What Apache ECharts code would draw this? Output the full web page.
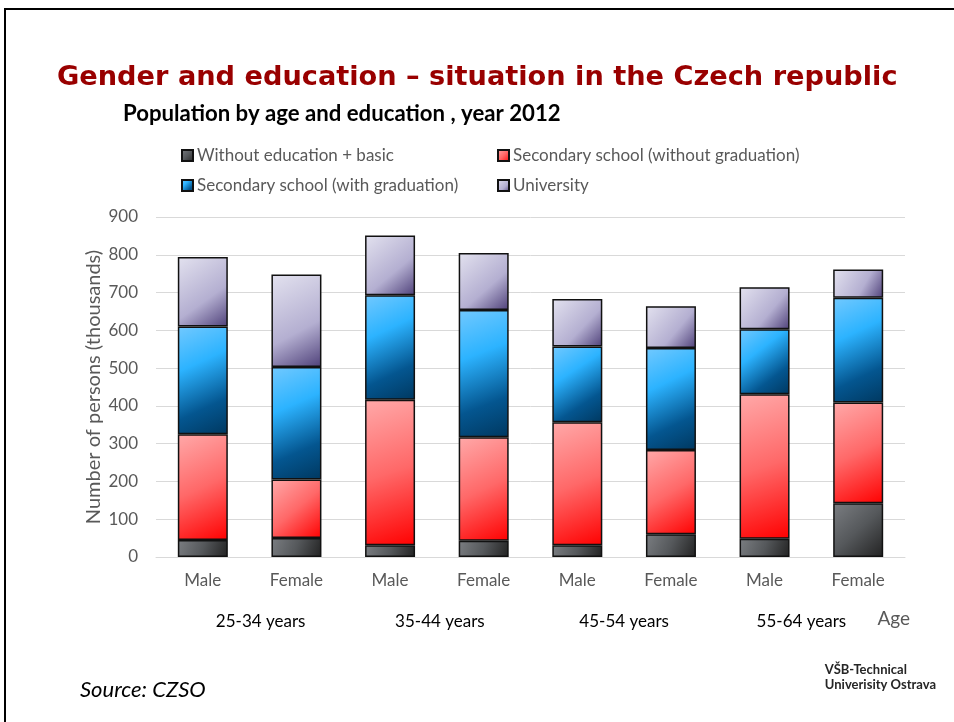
<!DOCTYPE html>
<html>
<head>
<meta charset="utf-8">
<title>Gender and education – Czech republic</title>
<script src="https://cdn.jsdelivr.net/npm/echarts@6/dist/echarts.min.js"></script>
<style>
  html, body { margin: 0; padding: 0; background: #ffffff; }
  #chart { width: 954px; height: 722px; }
</style>
</head>
<body>
<div id="chart"></div>
<script>
// Population by age group, gender and highest education, 2012 (thousands)
const genders = ['Male', 'Female', 'Male', 'Female', 'Male', 'Female', 'Male', 'Female'];
const ageGroups = ['25-34 years', '35-44 years', '45-54 years', '55-64 years'];
const seriesNames = [
  'Without education + basic',
  'Secondary school (without graduation)',
  'Secondary school (with graduation)',
  'University'
];
const basicEdu      = [45, 50, 31, 43, 31, 60, 48, 142];
const secondaryNoGr = [280, 155, 385, 274, 326, 223, 383, 267];
const secondaryGr   = [285, 298, 277, 337, 200, 270, 172, 277];
const university    = [184, 245, 158, 151, 126, 111, 111, 75];
const yTicks = { min: 0, max: 900, step: 100 };

const FONT = 'Lato, "Open Sans", sans-serif';
const GREY = '#595959';

function diag(stops) {
  return {
    type: 'linear', x: 0, y: 0, x2: 1, y2: 1,
    colorStops: stops.map(s => ({ offset: s[0], color: s[1] }))
  };
}

const fills = [
  diag([[0, '#7b7e82'], [0.5, '#55585b'], [1, '#222222']]),
  diag([[0, '#ffa9a9'], [0.5, '#ff6868'], [1, '#ff0000']]),
  diag([[0, '#72c9ff'], [0.35, '#2cb3ff'], [0.72, '#045690'], [1, '#003860']]),
  diag([[0, '#e3e2ef'], [0.6, '#b4afd1'], [1, '#4e4079']])
];

const values = [basicEdu, secondaryNoGr, secondaryGr, university];

const series = values.map((arr, i) => ({
  name: seriesNames[i],
  type: 'bar',
  stack: 'total',
  barWidth: 50,
  data: arr,
  itemStyle: {
    color: fills[i],
    borderColor: '#111111',
    borderWidth: 1.5
  },
  emphasis: { disabled: true }
}));

const legendPos = [
  { left: 181, top: 147 },
  { left: 497, top: 147 },
  { left: 181, top: 177 },
  { left: 497, top: 177 }
];
const legends = seriesNames.map((n, i) => ({
  data: [n],
  left: legendPos[i].left,
  top: legendPos[i].top,
  icon: 'rect',
  itemWidth: 11,
  itemHeight: 11,
  itemGap: 0,
  padding: 0,
  selectedMode: false,
  textStyle: { fontFamily: FONT, fontSize: 17, color: GREY, padding: [0, 0, 0, -1] }
}));

// small per-group nudges so the age-group labels sit where the slide places them
const groupShift = ['{a|', '{b|', '{c|', '{d|'];

const chart = echarts.init(document.getElementById('chart'), null, { renderer: 'canvas' });
chart.setOption({
  backgroundColor: '#ffffff',
  animation: false,
  title: [
    {
      text: 'Gender and education – situation in the Czech republic',
      left: 57, top: 64, padding: 0,
      textStyle: { fontFamily: '"DejaVu Sans", Verdana, sans-serif', fontWeight: 'bold', fontSize: 27.2, color: '#990000' }
    },
    {
      text: 'Population by age and education , year 2012',
      left: 123, top: 103, padding: 0,
      textStyle: { fontFamily: FONT, fontWeight: 'bold', fontSize: 22.2, color: '#000000' }
    },
    {
      text: 'Source: CZSO',
      left: 80, top: 679, padding: 0,
      textStyle: { fontFamily: FONT, fontStyle: 'italic', fontWeight: 'normal', fontSize: 22, color: '#000000' }
    },
    {
      text: 'VŠB-Technical\nUniverisity Ostrava',
      right: 18, top: 662, padding: 0,
      textStyle: { fontFamily: FONT, fontWeight: 'bold', fontSize: 13, lineHeight: 15, color: '#262626', align: 'right' }
    }
  ],
  legend: legends,
  grid: { left: 156, right: 49, top: 217, bottom: 165, containLabel: false },
  xAxis: [
    {
      type: 'category',
      data: genders,
      axisLine: { lineStyle: { color: '#d9d9d9', width: 1 } },
      axisTick: { show: false },
      axisLabel: { fontFamily: FONT, fontSize: 17, color: GREY, margin: 15 }
    },
    {
      type: 'category',
      data: ageGroups,
      position: 'bottom',
      offset: 52,
      axisLine: { show: false },
      axisTick: { show: false },
      axisLabel: {
        margin: 4,
        formatter: (v, i) => groupShift[i] + v + '}',
        rich: {
          a: { fontFamily: FONT, fontSize: 17, color: '#000', padding: [0, 0, 0, 22] },
          b: { fontFamily: FONT, fontSize: 17, color: '#000', padding: [0, 0, 0, 6] },
          c: { fontFamily: FONT, fontSize: 17, color: '#000' },
          d: { fontFamily: FONT, fontSize: 17, color: '#000', padding: [0, 20, 0, 0] }
        }
      },
      name: 'Age',
      nameLocation: 'end',
      nameGap: 5,
      nameMoveOverlap: false,
      nameTextStyle: { fontFamily: FONT, fontSize: 19, color: GREY, align: 'right', verticalAlign: 'top' }
    }
  ],
  yAxis: {
    type: 'value',
    min: yTicks.min,
    max: yTicks.max,
    interval: yTicks.step,
    axisLine: { show: false },
    axisTick: { show: false },
    splitLine: { lineStyle: { color: '#d9d9d9', width: 1 } },
    axisLabel: { fontFamily: FONT, fontSize: 17, color: GREY, margin: 18 },
    name: 'Number of persons (thousands)',
    nameLocation: 'middle',
    nameGap: 52,
    nameMoveOverlap: false,
    nameTextStyle: { fontFamily: FONT, fontSize: 20, color: GREY }
  },
  series: series,
  graphic: [
    {
      type: 'polyline',
      shape: { points: [[5, 722], [5, 9], [954, 9]] },
      style: { stroke: '#000000', lineWidth: 2, fill: null },
      silent: true
    }
  ]
});
</script>
</body>
</html>
